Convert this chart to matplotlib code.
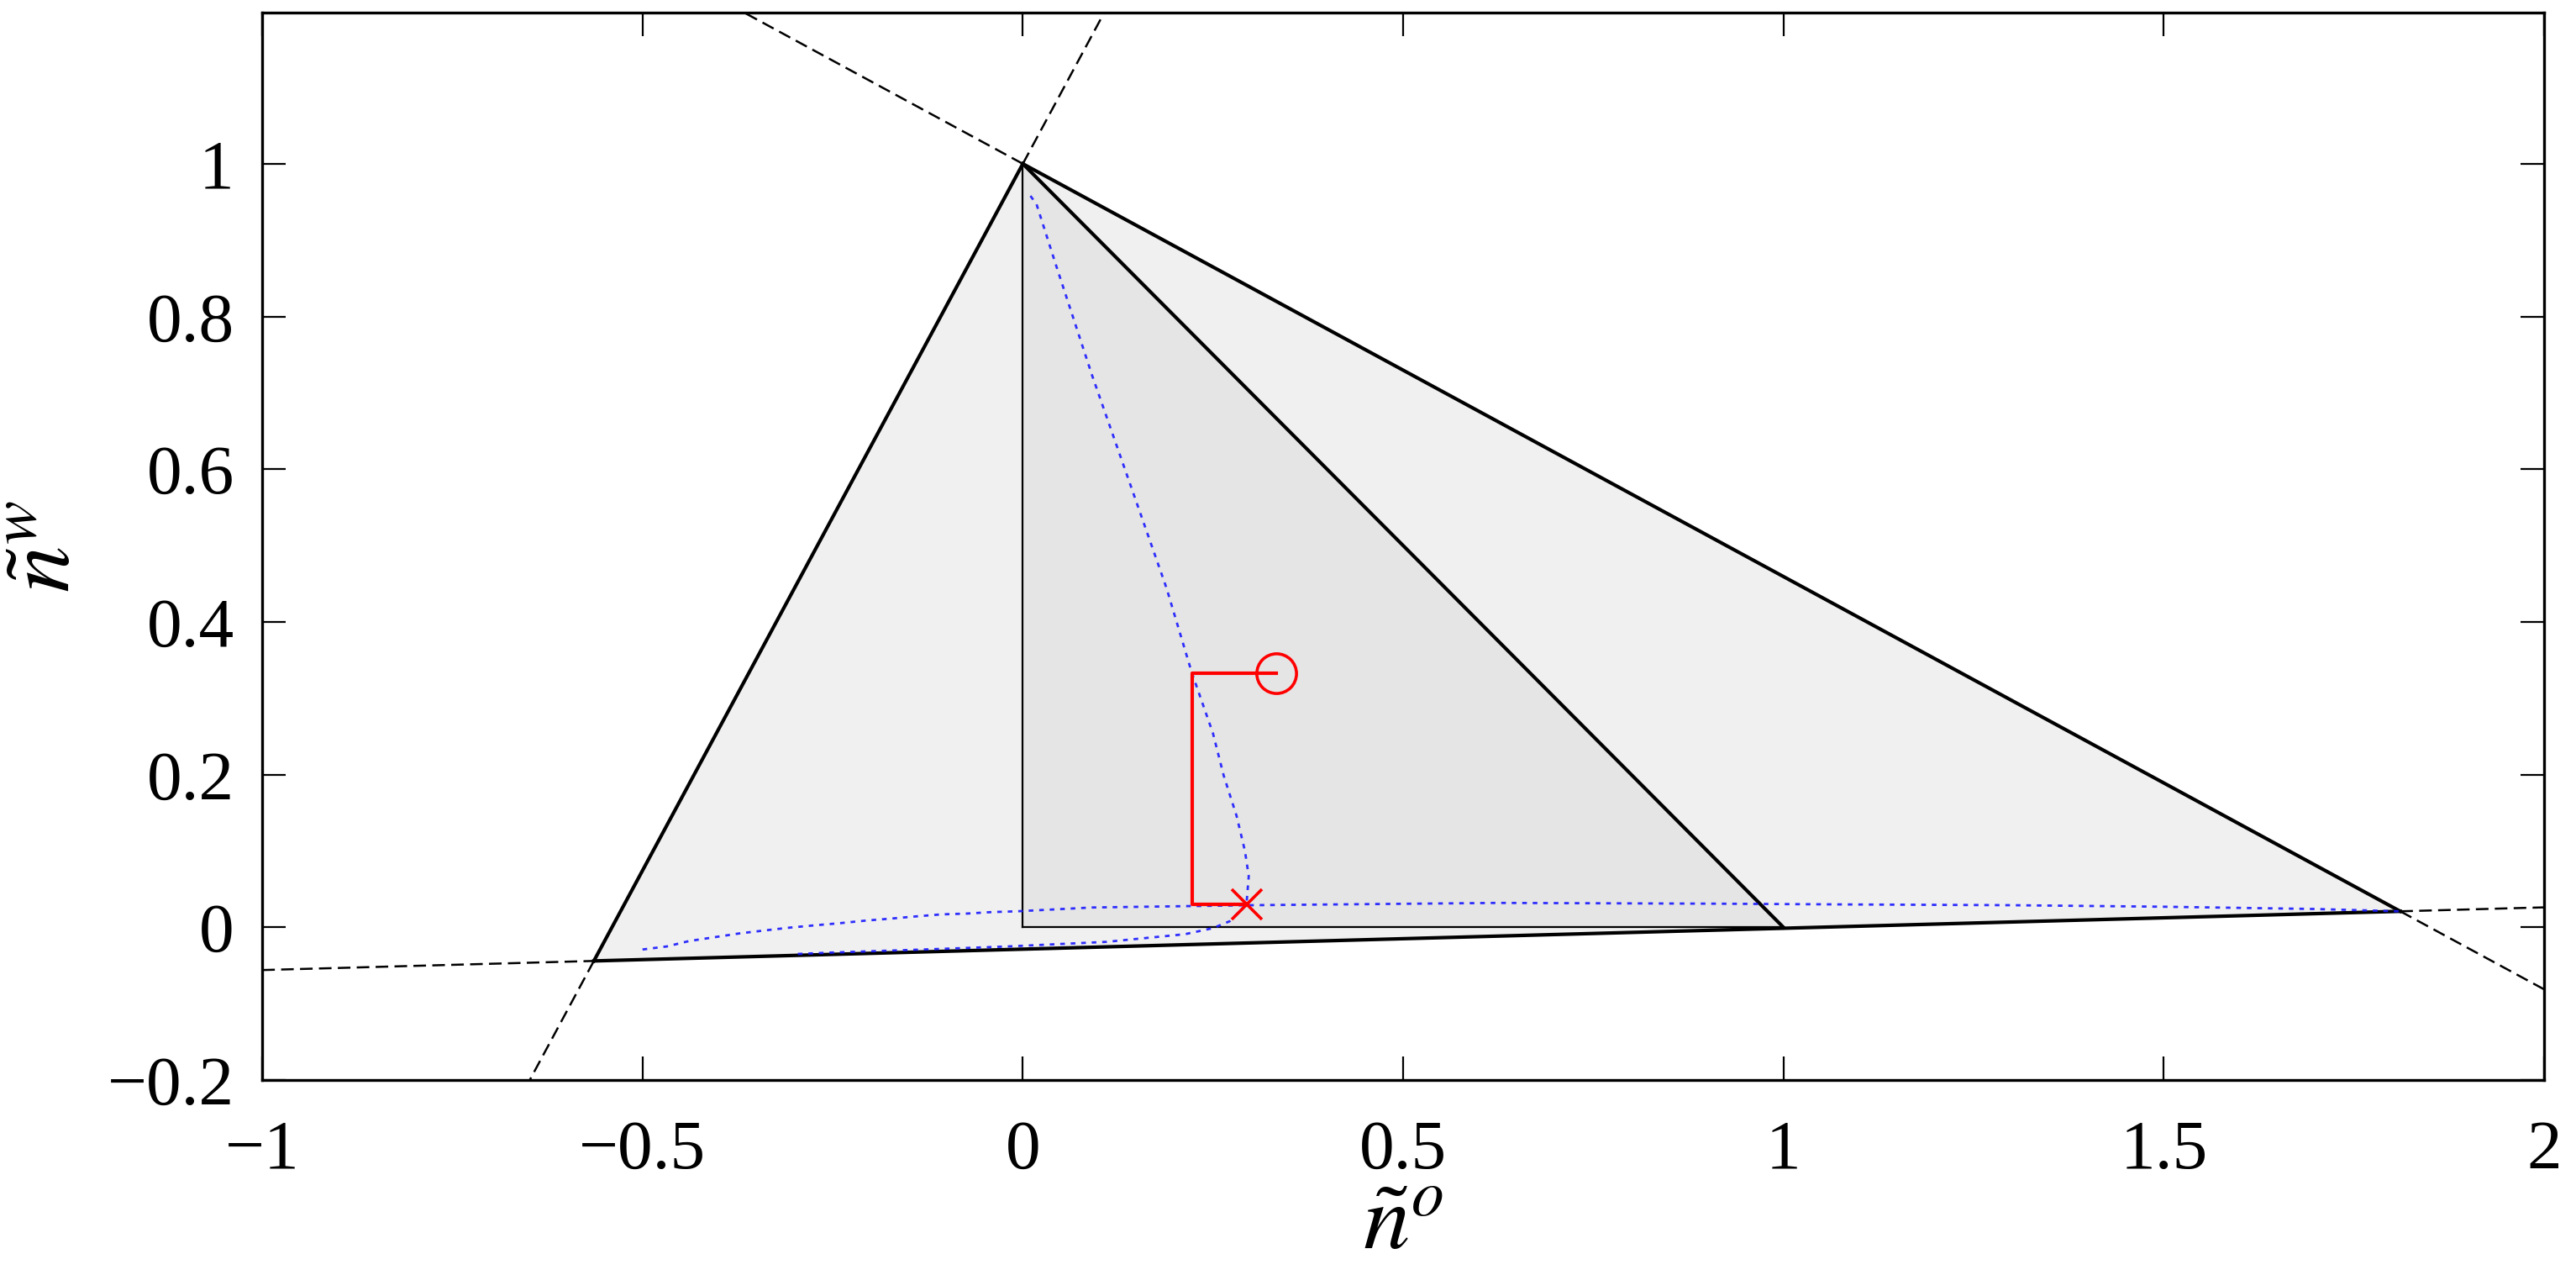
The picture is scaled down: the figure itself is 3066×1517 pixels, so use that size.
import matplotlib
matplotlib.use("Agg")
import matplotlib.pyplot as plt
import numpy as np

# triangle vertices
apex = (0.0, 1.0)
left_v = (-0.564, -0.044)
right_v = (1.811, 0.021)
inner_tri_x = [0.0, 1.0, 0.0]
inner_tri_y = [0.0, 0.0, 1.0]

# blue dotted curves
curve1_x = [0.010, 0.018, 0.044, 0.091, 0.189, 0.222, 0.250, 0.264, 0.281, 0.292,
            0.297, 0.294, 0.272, 0.250, 0.213, 0.110, -0.019, -0.130, -0.251, -0.30]
curve1_y = [0.958, 0.947, 0.866, 0.723, 0.444, 0.334, 0.254, 0.199, 0.146, 0.100,
            0.067, 0.030, 0.008, -0.001, -0.009, -0.019, -0.025, -0.029, -0.033, -0.035]
curve2_x = [-0.500, -0.468, -0.439, -0.406, -0.373, -0.339, -0.306, -0.273, -0.240,
            -0.207, -0.174, -0.141, -0.107, -0.074, -0.041, -0.008, 0.091, 0.300,
            0.625, 0.907, 1.085, 1.300, 1.500, 1.700, 1.811]
curve2_y = [-0.029, -0.025, -0.018, -0.013, -0.008, -0.004, -0.0003, 0.0027, 0.0055,
            0.0088, 0.0114, 0.0143, 0.017, 0.018, 0.020, 0.021, 0.026, 0.029,
            0.032, 0.031, 0.030, 0.029, 0.027, 0.024, 0.021]

# red path: start (circle) -> end (cross)
path_x = [1/3, 0.2228, 0.2228, 0.294]
path_y = [1/3, 1/3, 0.030, 0.030]

xlim = (-1, 2)
ylim = (-0.2, 1.198)
xticks = [-1, -0.5, 0, 0.5, 1, 1.5, 2]
xtick_labels = ["\u22121", "\u22120.5", "0", "0.5", "1", "1.5", "2"]
yticks = [-0.2, 0, 0.2, 0.4, 0.6, 0.8, 1]
ytick_labels = ["\u22120.2", "0", "0.2", "0.4", "0.6", "0.8", "1"]


def extend(p, q, xs):
    # straight line through p and q evaluated at xs
    s = (q[1] - p[1]) / (q[0] - p[0])
    xs = np.asarray(xs, dtype=float)
    return xs, p[1] + s * (xs - p[0])


def x_at_y(p, q, y):
    s = (q[1] - p[1]) / (q[0] - p[0])
    return p[0] + (y - p[1]) / s


plt.rcParams['font.family'] = ['Liberation Serif', 'DejaVu Serif']
plt.rcParams['mathtext.fontset'] = 'stix'

fig = plt.figure(figsize=(15.33, 7.585), dpi=200)
ax = fig.add_axes([0.1018, 0.1529, 0.8858, 0.8372])

outer_x = [apex[0], left_v[0], right_v[0]]
outer_y = [apex[1], left_v[1], right_v[1]]
ax.fill(outer_x, outer_y, color='#f0f0f0', lw=0, zorder=1)
ax.fill(inner_tri_x, inner_tri_y, color='#e5e5e5', lw=0, zorder=2)

thick = 1.5
thin = 0.8
ax.plot([apex[0], left_v[0]], [apex[1], left_v[1]], color='k', lw=thick, zorder=4)
ax.plot([apex[0], right_v[0]], [apex[1], right_v[1]], color='k', lw=thick, zorder=4)
ax.plot([left_v[0], right_v[0]], [left_v[1], right_v[1]], color='k', lw=thick, zorder=4)
ax.plot([0, 0], [0, 1], color='k', lw=thin, zorder=4)
ax.plot([0, 1], [0, 0], color='k', lw=thin, zorder=4)
ax.plot([0, 1], [1, 0], color='k', lw=thick, zorder=4)

# dashed extensions of the outer edges
dash = dict(color='k', lw=0.9, dashes=(6, 3), zorder=3)
xs, ys = extend(apex, left_v, [apex[0], x_at_y(apex, left_v, ylim[1])])
ax.plot(xs, ys, **dash)
xs, ys = extend(apex, left_v, [left_v[0], x_at_y(apex, left_v, ylim[0])])
ax.plot(xs, ys, **dash)
xs, ys = extend(apex, right_v, [apex[0], x_at_y(apex, right_v, ylim[1])])
ax.plot(xs, ys, **dash)
xs, ys = extend(apex, right_v, [right_v[0], xlim[1]])
ax.plot(xs, ys, **dash)
xs, ys = extend(left_v, right_v, [xlim[0], left_v[0]])
ax.plot(xs, ys, **dash)
xs, ys = extend(left_v, right_v, [right_v[0], xlim[1]])
ax.plot(xs, ys, **dash)

dots = dict(color='#1a1aff', lw=1.0, dashes=(2, 2.5), alpha=0.9, zorder=5)
ax.plot(curve1_x, curve1_y, **dots)
ax.plot(curve2_x, curve2_y, **dots)

ax.plot(path_x, path_y, color='r', lw=1.5, zorder=6)
ax.plot(path_x[0], path_y[0], 'o', mfc='none', mec='r', ms=17, mew=1.3, zorder=7)
ax.plot(path_x[-1], path_y[-1], 'x', color='r', ms=13, mew=1.3, zorder=7)

ax.set_xlim(*xlim)
ax.set_ylim(*ylim)
ax.set_xticks(xticks)
ax.set_xticklabels(xtick_labels)
ax.set_yticks(yticks)
ax.set_yticklabels(ytick_labels)
ax.tick_params(direction='in', length=10, width=0.8, labelsize=30,
               top=True, right=True)
ax.tick_params(axis='x', pad=17)
ax.tick_params(axis='y', pad=12)
for sp in ax.spines.values():
    sp.set_linewidth(1.2)

ax.set_xlabel(r'$\tilde{n}^{o}$', fontsize=40)
ax.xaxis.set_label_coords(0.5, -0.098)
ax.set_ylabel(r'$\tilde{n}^{w}$', fontsize=40)
ax.yaxis.set_label_coords(-0.076, 0.5)

fig.savefig('out.png', dpi=200)
